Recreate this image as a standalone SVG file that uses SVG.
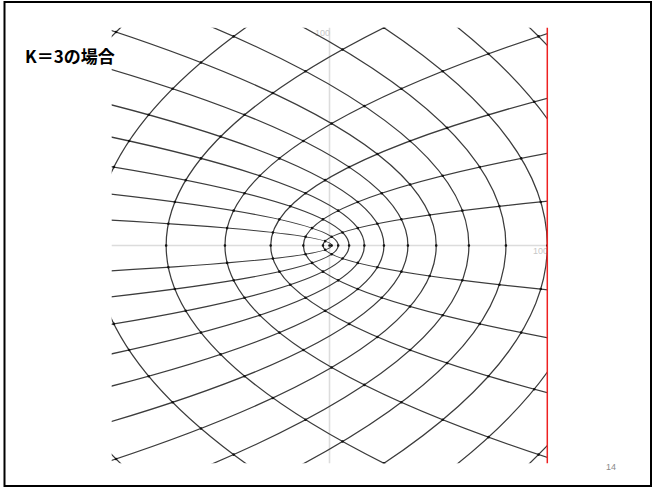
<svg xmlns="http://www.w3.org/2000/svg" width="653" height="488" viewBox="0 0 653 488">
<defs>
<style>
.c{fill:none;stroke:#3c3c3c;stroke-width:1.25;vector-effect:non-scaling-stroke}
.d{fill:none;stroke:#111;stroke-width:2.6;stroke-linecap:round;vector-effect:non-scaling-stroke}
.ax{stroke:#dcdcdc;stroke-width:1.6}
.lbl{font-family:"Liberation Sans",Arial,sans-serif;font-size:9px;fill:#c8c8c8}
.title{font-family:"Noto Sans CJK JP","Liberation Sans",sans-serif;font-size:17px;font-weight:bold;fill:#000}
.pg{font-family:"Liberation Sans",Arial,sans-serif;font-size:9px;fill:#8a8a8a}
</style>
<clipPath id="plot"><rect x="-100" y="-100" width="200" height="200"/></clipPath>
</defs>
<rect width="653" height="488" fill="#fff"/>
<rect x="4.5" y="2" width="646.5" height="484" fill="none" stroke="#000" stroke-width="2"/>
<g id="title"><text class="title" x="25" y="62.5">K＝3の場合</text></g>
<g id="axes">
<line class="ax" x1="329.5" y1="27.7" x2="329.5" y2="463.3"/>
<line class="ax" x1="111.7" y1="245.5" x2="547.3" y2="245.5"/>
<text class="lbl" x="315" y="35.5">100</text>
<text class="lbl" x="533" y="254">100</text>
</g>
<g id="grid" transform="matrix(2.178 0 0 -2.178 329.5 245.5)">
<g clip-path="url(#plot)">
<g id="familyA">
<path class="c" d="M-102 -11.72Q104 0 -102 11.72"/>
<path class="c" d="M-102 -23.78Q110 0 -102 23.78"/>
<path class="c" d="M-102 -36.5Q120 0 -102 36.5"/>
<path class="c" d="M-102 -50.17Q134 0 -102 50.17"/>
<path class="c" d="M-102 -65.06Q152 0 -102 65.06"/>
<path class="c" d="M-102 -81.39Q174 0 -102 81.39"/>
<path class="c" d="M-102 -99.32Q200 0 -102 99.32"/>
<path class="c" d="M-57.92 -102Q185.92 0 -57.92 102"/>
<path class="c" d="M-15.33 -102Q177.33 0 -15.33 102"/>
<path class="c" d="M21.97 -102Q178.03 0 21.97 102"/>
<path class="c" d="M56.51 -102Q185.49 0 56.51 102"/>
<path class="c" d="M89.81 -102Q198.19 0 89.81 102"/>
</g>
<g id="familyB">
<path class="c" d="M102 -20.49Q-108 0 102 20.49"/>
<path class="c" d="M102 -42.71Q-126 0 102 42.71"/>
<path class="c" d="M102 -68.15Q-156 0 102 68.15"/>
<path class="c" d="M102 -97.98Q-198 0 102 97.98"/>
<path class="c" d="M29.04 -102Q-179.04 0 29.04 102"/>
<path class="c" d="M-35.75 -102Q-180.25 0 -35.75 102"/>
<path class="c" d="M-93.92 -102Q-200.08 0 -93.92 102"/>
</g>
<g id="dots">
<path id="dotsTop" class="d" d="M-2 2h0M-11 4h0M-26 6h0M-47 8h0M-74 10h0M1 4h0M-8 8h0M-23 12h0M-44 16h0M-71 20h0M6 6h0M-3 12h0M-18 18h0M-39 24h0M-66 30h0M-99 36h0M13 8h0M4 16h0M-11 24h0M-32 32h0M-59 40h0M-92 48h0M22 10h0M13 20h0M-2 30h0M-23 40h0M-50 50h0M-83 60h0M33 12h0M24 24h0M9 36h0M-12 48h0M-39 60h0M-72 72h0M46 14h0M37 28h0M22 42h0M1 56h0M-26 70h0M-59 84h0M-98 98h0M61 16h0M52 32h0M37 48h0M16 64h0M-11 80h0M-44 96h0M78 18h0M69 36h0M54 54h0M33 72h0M6 90h0M97 20h0M88 40h0M73 60h0M52 80h0M25 100h0M94 66h0M73 88h0M96 96h0"/>
<use href="#dotsTop" transform="scale(1 -1)"/>
<path class="d" d="M0 0h0M1 0h0M4 0h0M9 0h0M16 0h0M25 0h0M36 0h0M49 0h0M64 0h0M81 0h0M100 0h0M-3 0h0M-12 0h0M-27 0h0M-48 0h0M-75 0h0"/>
</g>
</g>
</g>
<line x1="547.3" y1="27.7" x2="547.3" y2="463.3" stroke="#ee2020" stroke-width="1.5"/>
<g id="page"><text class="pg" x="606" y="470">14</text></g>
</svg>
